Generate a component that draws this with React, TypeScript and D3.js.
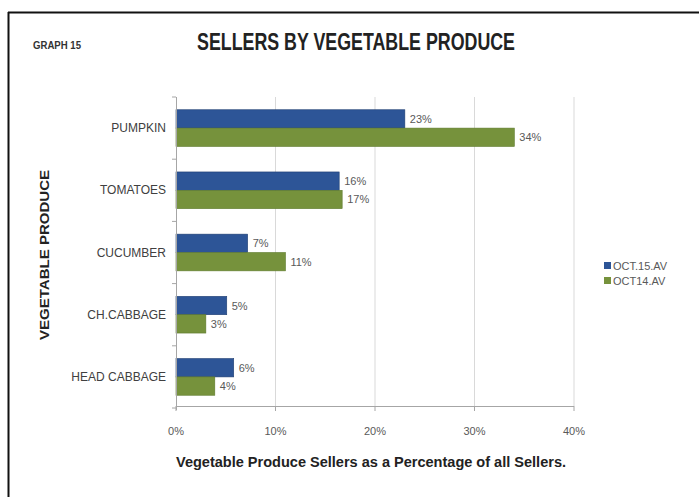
import React from "react";
import * as d3 from "d3";

const categories = ["PUMPKIN", "TOMATOES", "CUCUMBER", "CH.CABBAGE", "HEAD CABBAGE"];
const seriesNames = ["OCT.15.AV", "OCT14.AV"];
const oct15 = [0.23, 0.164, 0.072, 0.051, 0.058];
const oct14 = [0.34, 0.167, 0.11, 0.03, 0.039];
const xTicks = [0, 0.1, 0.2, 0.3, 0.4];

const W = 699;
const H = 497;
const colors = ["#2D5597", "#76923C"];
const FONT = "'Liberation Sans Narrow', 'Arial Narrow', 'Liberation Sans', sans-serif";

export default function App() {
  const x = d3.scaleLinear().domain([0, 0.4]).range([176, 574]);
  const y = d3.scaleBand<string>().domain(categories).range([97, 408]).paddingInner(0.41).paddingOuter(0.205);
  const sub = d3.scaleBand<number>().domain([0, 1]).range([0, y.bandwidth()]);
  const fmt = d3.format(".0%");
  const series = [oct15, oct14];
  const axisY = 406;
  const step = y.step();

  return (
    <svg
      width={W}
      height={H}
      style={{ position: "absolute", left: 0, top: 0, background: "#fff" }}
      fontFamily={FONT}
    >
      <rect x={0} y={0} width={W} height={H} fill="#fff" />
      {/* frame */}
      <line x1={8.5} y1={12} x2={8.5} y2={H} stroke="#111" strokeWidth={2} />
      <line x1={8} y1={12.5} x2={W} y2={12.5} stroke="#111" strokeWidth={2} />

      <text x={33} y={49} fontSize={10} fontWeight="bold" fill="#333" textLength={48} lengthAdjust="spacingAndGlyphs">
        GRAPH 15
      </text>
      <text x={197} y={50} fontSize={23} fontWeight="bold" fill="#222" textLength={318} lengthAdjust="spacingAndGlyphs">
        SELLERS BY VEGETABLE PRODUCE
      </text>

      {/* gridlines */}
      {xTicks.slice(1).map((t) => (
        <line key={t} x1={x(t)} x2={x(t)} y1={97} y2={axisY} stroke="#D9D9D9" strokeWidth={1} />
      ))}

      {/* bars */}
      {categories.map((c, i) =>
        series.map((s, j) => (
          <rect
            key={c + j}
            x={x(0)}
            y={(y(c) as number) + (sub(j) as number)}
            width={x(s[i]) - x(0)}
            height={sub.bandwidth()}
            fill={colors[j]}
            stroke={j === 0 ? "#1F3F72" : "#5E7A2C"}
            strokeWidth={0.6}
          />
        ))
      )}

      {/* data labels */}
      {categories.map((c, i) =>
        series.map((s, j) => (
          <text
            key={"l" + c + j}
            x={x(s[i]) + 5}
            y={(y(c) as number) + (sub(j) as number) + sub.bandwidth() / 2 + 4}
            fontSize={11}
            fill="#595959"
          >
            {fmt(Math.round(s[i] * 100) / 100)}
          </text>
        ))
      )}

      {/* axes */}
      <line x1={176.5} x2={176.5} y1={97} y2={axisY + 4} stroke="#A6A6A6" />
      {d3.range(categories.length + 1).map((k) => (
        <line key={"yt" + k} x1={172} x2={176} y1={97 + k * step} y2={97 + k * step} stroke="#A6A6A6" />
      ))}
      <line x1={176} x2={574} y1={axisY + 0.5} y2={axisY + 0.5} stroke="#A6A6A6" />
      {xTicks.map((t) => (
        <g key={"xt" + t}>
          <line x1={x(t)} x2={x(t)} y1={axisY} y2={axisY + 5} stroke="#A6A6A6" />
          <text x={x(t)} y={435} fontSize={11} fill="#595959" textAnchor="middle">
            {fmt(t)}
          </text>
        </g>
      ))}

      {/* category labels */}
      {categories.map((c) => (
        <text
          key={"c" + c}
          x={166}
          y={(y(c) as number) + y.bandwidth() / 2 + 4}
          fontSize={12}
          fill="#404040"
          textAnchor="end"
        >
          {c}
        </text>
      ))}

      {/* axis titles */}
      <text x={371} y={467} fontSize={14} fontWeight="bold" fill="#222" textAnchor="middle" textLength={390} lengthAdjust="spacingAndGlyphs">
        Vegetable Produce Sellers as a Percentage of all Sellers.
      </text>
      <text
        transform="translate(49,255) rotate(-90)"
        fontSize={13}
        fontWeight="bold"
        fill="#222"
        textAnchor="middle"
        textLength={170}
        lengthAdjust="spacingAndGlyphs"
      >
        VEGETABLE PRODUCE
      </text>

      {/* legend */}
      {seriesNames.map((n, j) => (
        <g key={n} transform={`translate(604,${266 + j * 15})`}>
          <rect x={0} y={-4} width={7} height={7} fill={colors[j]} />
          <text x={9} y={4} fontSize={11} fill="#595959">
            {n}
          </text>
        </g>
      ))}
    </svg>
  );
}
